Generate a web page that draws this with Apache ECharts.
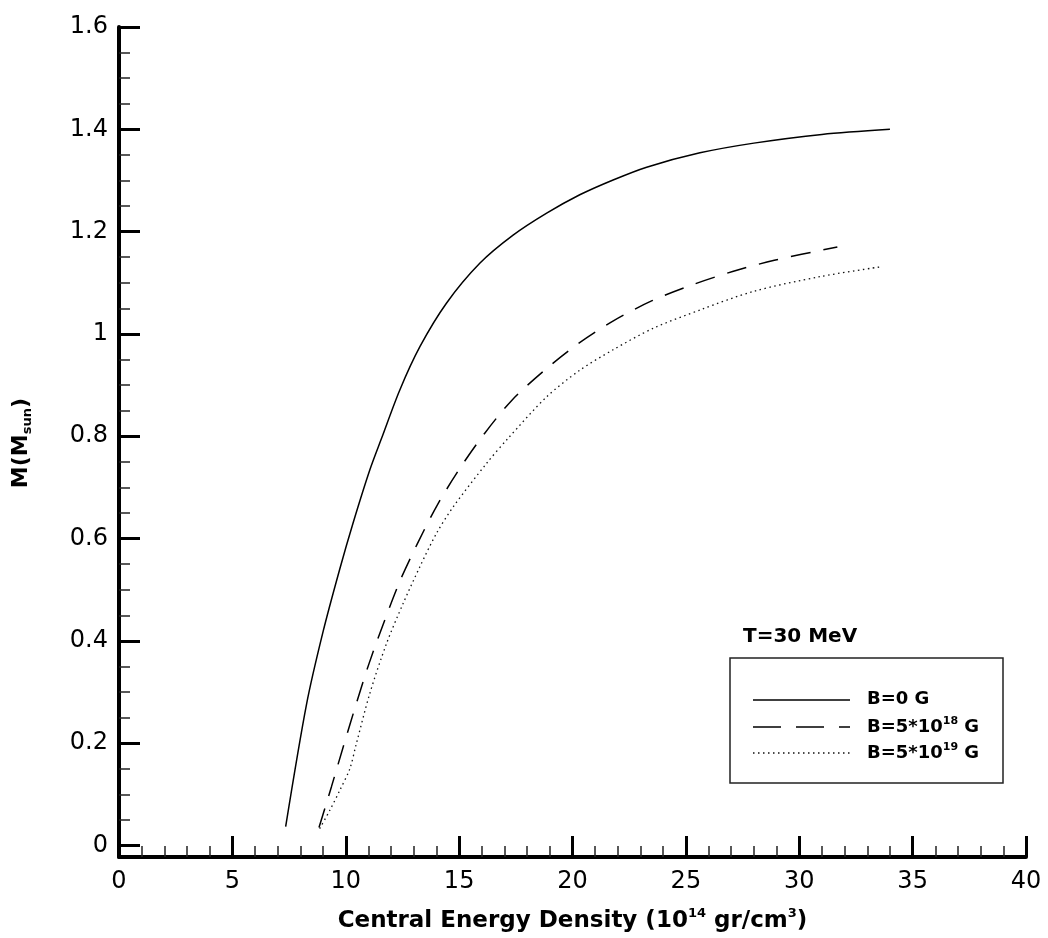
<!DOCTYPE html>
<html>
<head>
<meta charset="utf-8">
<script src="https://cdn.jsdelivr.net/npm/echarts@6/dist/echarts.min.js"></script>
<style>html,body{margin:0;padding:0;background:#fff}#c{width:1048px;height:938px}</style>
</head>
<body>
<div id="c"></div>
<script>
// Data
const xTicks = [0, 5, 10, 15, 20, 25, 30, 35, 40];
const yTicks = [0, 0.2, 0.4, 0.6, 0.8, 1, 1.2, 1.4, 1.6];
const yMinorTicks = [0.05, 0.1, 0.15, 0.25, 0.3, 0.35, 0.45, 0.5, 0.55, 0.65, 0.7, 0.75, 0.85, 0.9, 0.95, 1.05, 1.1, 1.15, 1.25, 1.3, 1.35, 1.45, 1.5, 1.55];

const seriesNames = ['B=0 G', 'B=5*10^18 G', 'B=5*10^19 G'];

const b0X = [7.35, 8.27, 9.0, 9.74, 10.32, 11.06, 11.58, 12.38, 13.27, 14.44, 15.91, 17.38, 18.86, 20.32, 21.79, 23.27, 25.62, 28, 31, 34.0];
const b0Y = [0.037, 0.276, 0.418, 0.541, 0.630, 0.734, 0.796, 0.890, 0.975, 1.060, 1.138, 1.193, 1.236, 1.272, 1.301, 1.326, 1.354, 1.373, 1.39, 1.40];

const b18X = [8.82, 9.37, 9.91, 10.47, 11.03, 11.69, 12.38, 13.16, 14.03, 15.03, 16.13, 17.34, 18.74, 20.22, 21.82, 23.51, 25.28, 27.06, 28.9, 31.68];
const b18Y = [0.035, 0.115, 0.196, 0.278, 0.356, 0.437, 0.516, 0.59, 0.665, 0.737, 0.806, 0.871, 0.928, 0.98, 1.026, 1.065, 1.096, 1.122, 1.144, 1.170];

const b19X = [8.85, 9.3, 9.74, 10.18, 10.45, 11.06, 11.8, 12.53, 13.27, 14.0, 14.74, 16.21, 17.16, 18.86, 20.32, 21.79, 23.56, 25.69, 27.97, 30.91, 33.56];
const b19Y = [0.033, 0.069, 0.108, 0.150, 0.196, 0.297, 0.395, 0.473, 0.545, 0.61, 0.662, 0.747, 0.796, 0.877, 0.929, 0.969, 1.011, 1.048, 1.083, 1.112, 1.131];

const zip = (xs, ys) => xs.map((x, i) => [x, ys[i]]);

const FONT = '"DejaVu Sans", "Liberation Sans", Arial, sans-serif';
const legB = {fontSize: 18, fontWeight: 'bold', fontFamily: FONT, color: '#000', lineHeight: 22};
const legS = {fontSize: 11, fontWeight: 'bold', fontFamily: FONT, color: '#000', verticalAlign: 'top', lineHeight: 22};

const chart = echarts.init(document.getElementById('c'), null, {renderer: 'canvas'});

const yMin = -0.0225, yMax = 1.6;

const option = {
  backgroundColor: '#fff',
  animation: false,
  grid: {left: 119, right: 22, top: 27, bottom: 81},
  xAxis: {
    type: 'value', min: 0, max: 40, interval: 5,
    name: '{b|Central Energy Density (10}{s|14}{b| gr/cm}{s|3}{b|)}',
    nameLocation: 'middle', nameGap: 50,
    nameTextStyle: {rich: {
      b: {fontSize: 23, fontWeight: 'bold', fontFamily: FONT, color: '#000', lineHeight: 28},
      s: {fontSize: 13, fontWeight: 'bold', fontFamily: FONT, color: '#000', verticalAlign: 'top', lineHeight: 28}
    }},
    axisLine: {show: true, onZero: false, lineStyle: {color: '#000', width: 4}},
    axisTick: {show: true, inside: true, length: 21, lineStyle: {color: '#000', width: 3}},
    minorTick: {show: true, splitNumber: 5, length: 11, lineStyle: {color: '#222', width: 1.5}},
    splitLine: {show: false},
    axisLabel: {fontSize: 24, fontFamily: FONT, color: '#000', margin: 13,
      formatter: v => String(v)}
  },
  yAxis: [{
    type: 'value', min: yMin, max: yMax,
    axisLine: {show: true, onZero: false, lineStyle: {color: '#000', width: 4}},
    axisTick: {show: true, inside: true, length: 21, customValues: yTicks, lineStyle: {color: '#000', width: 3}},
    splitLine: {show: false},
    axisLabel: {fontSize: 24, fontFamily: FONT, color: '#000', margin: 11, customValues: yTicks,
      formatter: v => String(+(+v).toFixed(2))}
  }, {
    type: 'value', min: yMin, max: yMax, position: 'left',
    axisLine: {show: false},
    axisTick: {show: true, inside: true, length: 11, customValues: yMinorTicks, lineStyle: {color: '#222', width: 1.5}},
    splitLine: {show: false},
    axisLabel: {show: false}
  }],
  series: [{
    name: seriesNames[0], type: 'line', data: zip(b0X, b0Y), showSymbol: false, smooth: 0.3,
    lineStyle: {color: '#000', width: 1.5, type: 'solid'}
  }, {
    name: seriesNames[1], type: 'line', data: zip(b18X, b18Y), showSymbol: false, smooth: 0.3,
    lineStyle: {color: '#000', width: 1.5, type: [20, 13]}
  }, {
    name: seriesNames[2], type: 'line', data: zip(b19X, b19Y), showSymbol: false, smooth: 0.3,
    lineStyle: {color: '#111', width: 1.3, type: [1.5, 3.5]}
  }],
  graphic: [
    {type: 'text', left: 10, top: 398, rotation: Math.PI / 2,
      style: {text: '{b|M(M}{s|sun}{b|)}', rich: {
        b: {fontSize: 22, fontWeight: 'bold', fontFamily: FONT, color: '#000', lineHeight: 26},
        s: {fontSize: 13, fontWeight: 'bold', fontFamily: FONT, color: '#000', verticalAlign: 'bottom', lineHeight: 26}
      }}},
    {type: 'text', left: 743, top: 627, style: {text: 'T=30 MeV', font: 'bold 20px ' + FONT, fill: '#000'}},
    {type: 'rect', shape: {x: 730, y: 658, width: 273, height: 125}, style: {fill: '#fff', stroke: '#222', lineWidth: 1.5}},
    {type: 'line', shape: {x1: 753, y1: 700, x2: 850, y2: 700}, style: {stroke: '#000', lineWidth: 1.5}},
    {type: 'line', shape: {x1: 753, y1: 727, x2: 850, y2: 727}, style: {stroke: '#000', lineWidth: 1.5, lineDash: [28, 15]}},
    {type: 'line', shape: {x1: 753, y1: 753, x2: 850, y2: 753}, style: {stroke: '#111', lineWidth: 1.3, lineDash: [1.5, 3.5]}},
    {type: 'text', left: 867, top: 690, style: {text: '{b|B=0 G}', rich: {b: legB}}},
    {type: 'text', left: 867, top: 716, style: {text: '{b|B=5*10}{s|18}{b| G}', rich: {b: legB, s: legS}}},
    {type: 'text', left: 867, top: 742, style: {text: '{b|B=5*10}{s|19}{b| G}', rich: {b: legB, s: legS}}}
  ]
};
chart.setOption(option);
</script>
</body>
</html>
